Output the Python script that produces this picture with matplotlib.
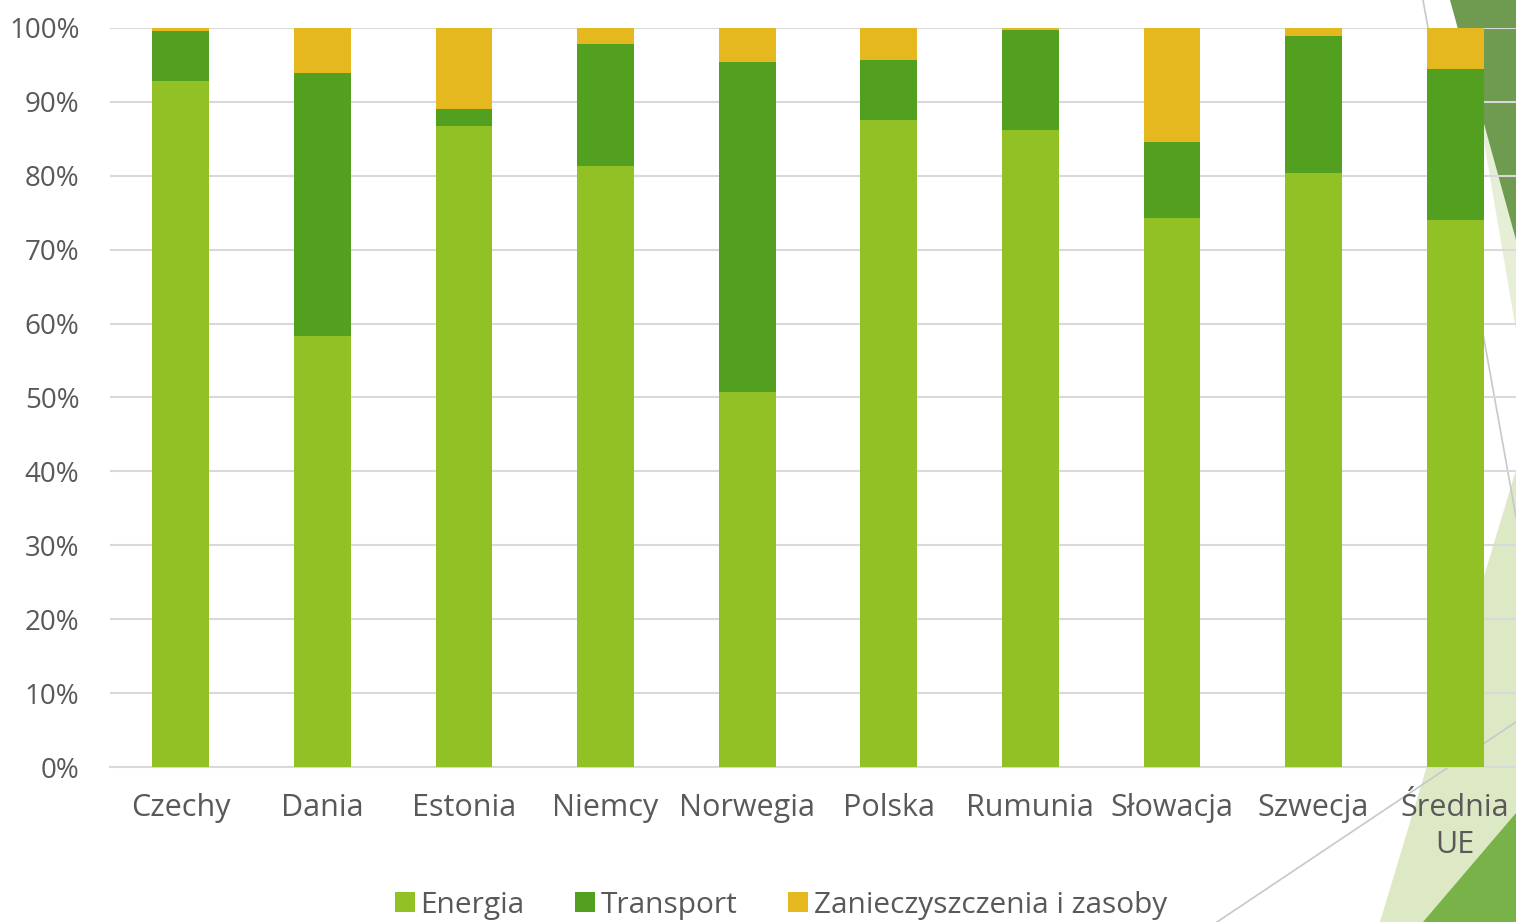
import matplotlib
matplotlib.use("Agg")
import matplotlib.pyplot as plt
import numpy as np
from matplotlib.patches import Polygon
from matplotlib.lines import Line2D

# shares in % per country
countries = ["Czechy", "Dania", "Estonia", "Niemcy", "Norwegia", "Polska",
             "Rumunia", "Słowacja", "Szwecja", "Średnia\nUE"]
energia = [92.8, 58.3, 86.7, 81.3, 50.7, 87.6, 86.2, 74.3, 80.4, 74.0]
transport = [6.8, 35.6, 2.3, 16.5, 44.7, 8.1, 13.5, 10.3, 18.5, 20.5]
zanieczyszczenia = [0.4, 6.1, 11.0, 2.2, 4.6, 4.3, 0.3, 15.4, 1.1, 5.5]
series_names = ["Energia", "Transport", "Zanieczyszczenia i zasoby"]
colors = ["#92c125", "#53a021", "#e5b81f"]
yticks = [0, 10, 20, 30, 40, 50, 60, 70, 80, 90, 100]

W, H = 1516, 922
fig = plt.figure(figsize=(W / 100, H / 100), dpi=100)
fig.patch.set_facecolor("white")


def px(x, y):
    return (x / W, 1 - y / H)


# background decoration (slide theme)
deco = fig.add_axes([0, 0, 1, 1], zorder=0)
deco.set_xlim(0, 1)
deco.set_ylim(0, 1)
deco.axis("off")
shapes = [
    ([(1470, 60), (1516, 240), (1516, 330)], "#e6efd6"),
    ([(1450, 0), (1516, 0), (1516, 240)], "#6f9b50"),
    ([(1380, 922), (1516, 470), (1516, 922)], "#dde9c4"),
    ([(1423, 922), (1516, 813), (1516, 922)], "#79b248"),
]
for pts, c in shapes:
    deco.add_patch(Polygon([px(*p) for p in pts], closed=True, color=c, lw=0))
for (x0, y0), (x1, y1) in [((1423, 0), (1516, 517)), ((1217, 922), (1516, 722))]:
    a, b = px(x0, y0), px(x1, y1)
    deco.add_line(Line2D([a[0], b[0]], [a[1], b[1]], color="#c8c8c8", lw=1.2))

ax = fig.add_axes([110 / W, (922 - 767) / H, 1416 / W, 739 / H], zorder=1)
ax.patch.set_alpha(0)

x = np.arange(len(countries))
bottom = np.zeros(len(countries))
for name, vals, c in zip(series_names, [energia, transport, zanieczyszczenia], colors):
    ax.bar(x, vals, width=0.4, bottom=bottom, color=c, label=name, zorder=3)
    bottom += np.array(vals)

ax.set_xlim(-0.5, 9.5)
ax.set_ylim(0, 100)
ax.set_yticks(yticks)
ax.set_yticklabels([f"{v}%" for v in yticks])
ax.set_xticks(x)
ax.set_xticklabels(countries)
ax.yaxis.grid(True, color="#d9d9d9", lw=1.5, zorder=0)
for s in ["top", "right", "left"]:
    ax.spines[s].set_visible(False)
ax.spines["bottom"].set_color("#d9d9d9")
ax.spines["bottom"].set_linewidth(1.5)
ax.tick_params(axis="both", length=0, colors="#595959")
ax.tick_params(axis="y", labelsize=20, pad=22)
ax.tick_params(axis="x", labelsize=22, pad=19)
for t in ax.get_xticklabels() + ax.get_yticklabels():
    t.set_family(["Open Sans", "DejaVu Sans"])
    t.set_color("#595959")
for t in ax.get_xticklabels():
    t.set_linespacing(1.3)

leg = fig.legend(loc="center", bbox_to_anchor=(781 / W, 1 - 905 / H), ncol=3,
                 frameon=False, handlelength=0.65, handleheight=0.65,
                 handletextpad=0.2, columnspacing=1.7,
                 prop={"family": ["Open Sans", "DejaVu Sans"], "size": 21.5})
for t in leg.get_texts():
    t.set_color("#595959")

fig.savefig("out.png", dpi=100)
